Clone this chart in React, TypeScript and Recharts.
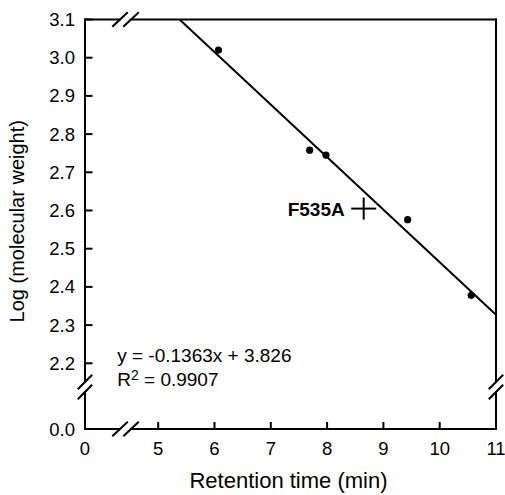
import { ScatterChart, Scatter, XAxis, YAxis, ReferenceLine, Label } from 'recharts';

const FONT = '"Liberation Sans", Arial, Helvetica, sans-serif';

// Standards: retention time (min) vs log(molecular weight)
const STD_TIME = [6.07, 7.69, 7.98, 9.43, 10.56];
const STD_LOGMW = [3.02, 2.758, 2.745, 2.576, 2.378];

// Mutant marked with a cross
const MUTANT_NAME = 'F535A';
const MUTANT_TIME = 8.65;
const MUTANT_LOGMW = 2.605;

// Regression line, as drawn (clipped at the top of the frame)
const FIT_TIME = [5.38, 11];
const FIT_LOGMW = [3.1, 2.327];
const EQUATION = 'y = -0.1363x + 3.826';
const R_SQUARED = '0.9907';

const X_TICKS = [0, 5, 6, 7, 8, 9, 10, 11];
const Y_TICKS = [0, 2.2, 2.3, 2.4, 2.5, 2.6, 2.7, 2.8, 2.9, 3.0, 3.1];

// broken axes: 0..5 min and 0..2.2 are squeezed into a short stretch
const X_CUT = 5;
const X_GAP = 1.3;
const Y_CUT = 2.2;
const Y_GAP = 0.172;
const toU = (x: number) => (x <= X_CUT ? (x / X_CUT) * X_GAP : X_GAP + (x - X_CUT));
const toV = (y: number) => (y <= Y_CUT ? (y / Y_CUT) * Y_GAP : Y_GAP + (y - Y_CUT));
const U_MAX = toU(11);
const V_MAX = toV(3.1);

const W = 505;
const H = 495;
const MARGIN = { top: 19.5, right: 9, bottom: 0, left: 0 };
const Y_AXIS_W = 85;
const X_AXIS_H = 66;
const PLOT_W = W - MARGIN.right - Y_AXIS_W;
const PLOT_H = H - MARGIN.top - X_AXIS_H;
const PX_U = U_MAX / PLOT_W;
const PX_V = V_MAX / PLOT_H;

// where the break marks sit (in squeezed units)
const X_BREAK = 0.72;
const Y_BREAK = 0.11;
const GAP_U = 5.5 * PX_U;
const GAP_V = 5 * PX_V;

type Seg = [{ x: number; y: number }, { x: number; y: number }];
const seg = (x1: number, y1: number, x2: number, y2: number): Seg => [
  { x: x1, y: y1 },
  { x: x2, y: y2 },
];

const frame: Seg[] = [];
for (const v of [0, V_MAX]) {
  frame.push(seg(0, v, X_BREAK - GAP_U, v));
  frame.push(seg(X_BREAK + GAP_U, v, U_MAX, v));
  for (const c of [X_BREAK - GAP_U, X_BREAK + GAP_U]) {
    frame.push(seg(c - 7 * PX_U, v - 6.5 * PX_V, c + 7 * PX_U, v + 6.5 * PX_V));
  }
}
for (const u of [0, U_MAX]) {
  frame.push(seg(u, 0, u, Y_BREAK - GAP_V));
  frame.push(seg(u, Y_BREAK + GAP_V, u, V_MAX));
  for (const c of [Y_BREAK - GAP_V, Y_BREAK + GAP_V]) {
    frame.push(seg(u - 6.5 * PX_U, c - 6.5 * PX_V, u + 6.5 * PX_U, c + 6.5 * PX_V));
  }
}

const stdData = STD_TIME.map((t, i) => ({ u: toU(t), v: toV(STD_LOGMW[i]) }));
const fitData = FIT_TIME.map((t, i) => ({ u: toU(t), v: toV(FIT_LOGMW[i]) }));
const mutantData = [{ u: toU(MUTANT_TIME), v: toV(MUTANT_LOGMW) }];
const noteData = [{ u: toU(2.2), v: toV(2.2) }];

const XTick = ({ x, y, payload }: any) => {
  const label = X_TICKS.find((t) => Math.abs(toU(t) - payload.value) < 1e-6);
  return (
    <g>
      <line x1={x} y1={y} x2={x} y2={y - 7} stroke="#000" strokeWidth={2} />
      <text x={x} y={y + 25.5} textAnchor="middle" fontSize={18.5} fontFamily={FONT} fill="#000">
        {label}
      </text>
    </g>
  );
};

const YTick = ({ x, y, payload }: any) => {
  const label = Y_TICKS.find((t) => Math.abs(toV(t) - payload.value) < 1e-6);
  return (
    <g>
      <line x1={x} y1={y} x2={x + 7.5} y2={y} stroke="#000" strokeWidth={2} />
      <text x={x - 10} y={y + 6.5} textAnchor="end" fontSize={18.5} fontFamily={FONT} fill="#000">
        {label?.toFixed(1)}
      </text>
    </g>
  );
};

const Dot = ({ cx, cy }: any) => <circle cx={cx} cy={cy} r={3.6} fill="#000" />;

const Nothing = () => <g />;

const MutantMark = ({ cx, cy }: any) => (
  <g>
    <line x1={cx - 12.5} y1={cy} x2={cx + 12.5} y2={cy} stroke="#000" strokeWidth={2} />
    <line x1={cx} y1={cy - 11} x2={cx} y2={cy + 11} stroke="#000" strokeWidth={2} />
    <text
      x={cx - 19}
      y={cy + 7}
      textAnchor="end"
      fontSize={19}
      fontWeight="bold"
      fontFamily={FONT}
      fill="#000"
    >
      {MUTANT_NAME}
    </text>
  </g>
);

const FitNote = ({ cx, cy }: any) => (
  <g fontFamily={FONT} fontSize={19} fill="#000">
    <text x={cx} y={cy - 1}>
      {EQUATION}
    </text>
    <text x={cx} y={cy + 23}>
      R
      <tspan dy={-6} fontSize={14}>
        2
      </tspan>
      <tspan dy={6}>{' = ' + R_SQUARED}</tspan>
    </text>
  </g>
);

export default function App() {
  return (
    <div style={{ position: 'absolute', left: 0, top: 0, background: '#fff' }}>
      <ScatterChart width={W} height={H} margin={MARGIN}>
        <XAxis
          type="number"
          dataKey="u"
          domain={[0, U_MAX]}
          ticks={X_TICKS.map(toU)}
          interval={0}
          axisLine={false}
          tickLine={false}
          tickSize={0}
          tickMargin={0}
          tick={<XTick />}
          height={X_AXIS_H}
        >
          <Label
            content={({ viewBox }: any) => (
              <text
                x={viewBox.x + viewBox.width / 2 - 2}
                y={viewBox.y + 59}
                textAnchor="middle"
                fontSize={22}
                fontFamily={FONT}
                fill="#000"
              >
                Retention time (min)
              </text>
            )}
          />
        </XAxis>
        <YAxis
          type="number"
          dataKey="v"
          domain={[0, V_MAX]}
          ticks={Y_TICKS.map(toV)}
          interval={0}
          axisLine={false}
          tickLine={false}
          tickSize={0}
          tickMargin={0}
          tick={<YTick />}
          width={Y_AXIS_W}
        >
          <Label
            content={({ viewBox }: any) => {
              const cx = viewBox.x + 17;
              const cy = viewBox.y + viewBox.height / 2 - 3;
              return (
                <text
                  x={cx}
                  y={cy}
                  transform={`rotate(-90, ${cx}, ${cy})`}
                  textAnchor="middle"
                  dominantBaseline="central"
                  fontSize={20}
                  fontFamily={FONT}
                  fill="#000"
                >
                  Log (molecular weight)
                </text>
              );
            }}
          />
        </YAxis>

        {frame.map((s, i) => (
          <ReferenceLine
            key={i}
            segment={s}
            ifOverflow="visible"
            stroke="#000"
            strokeWidth={2}
            strokeLinecap="square"
          />
        ))}

        <Scatter
          data={fitData}
          shape={<Nothing />}
          line={{ stroke: '#000', strokeWidth: 2 }}
          isAnimationActive={false}
        />
        <Scatter data={stdData} shape={<Dot />} isAnimationActive={false} />
        <Scatter data={mutantData} shape={<MutantMark />} isAnimationActive={false} />
        <Scatter data={noteData} shape={<FitNote />} isAnimationActive={false} />
      </ScatterChart>
    </div>
  );
}
